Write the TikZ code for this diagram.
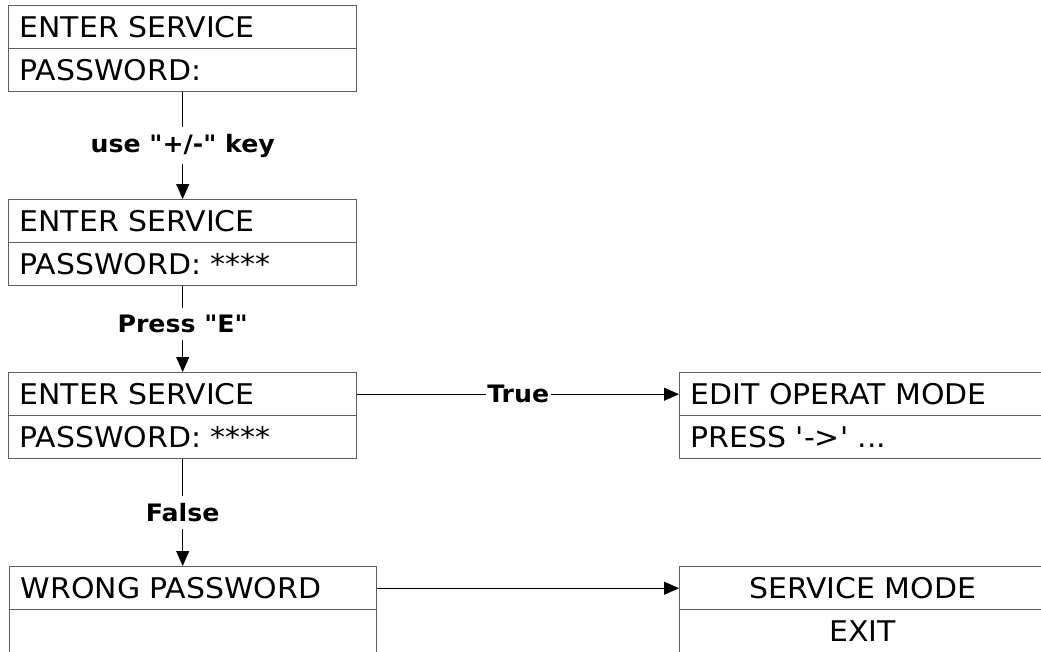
\documentclass[tikz,border=0pt]{standalone}
\usepackage{fontspec}
\setmainfont{DejaVu Sans}[Ligatures=TeXOff, FakeStretch=1.05]
\usetikzlibrary{arrows.meta}
\definecolor{boxline}{RGB}{95,95,95}
\tikzset{
  row/.style={draw=boxline, line width=1.4pt, rectangle, anchor=north west,
    minimum height=43pt, inner xsep=11pt, inner ysep=0pt,
    font=\fontsize{28.5}{34}\selectfont},
  rowl/.style={row, minimum width=#1, text width=#1-22pt, align=left},
  rowc/.style={row, minimum width=#1, text width=#1-22pt, align=center},
  link/.style={draw=black, line width=1pt, -{Triangle[length=15pt,width=13pt]}},
  tag/.style={fill=white, font=\fontsize{24}{28}\bfseries\selectfont,
    inner xsep=1.5pt, inner ysep=7pt}
}
\begin{document}
\begin{tikzpicture}[x=1pt, y=-1pt]
  \clip (0,0) rectangle (1041,651);
  \fill[white] (0,0) rectangle (1041,651);

  % password entry screens
  \node[rowl=348pt] (b1t) at (8,5)   {ENTER SERVICE};
  \node[rowl=348pt] (b1b) at (8,48)  {PASSWORD:};
  \node[rowl=348pt] (b2t) at (8,199) {ENTER SERVICE};
  \node[rowl=348pt] (b2b) at (8,242) {PASSWORD: ****};
  \node[rowl=348pt] (b3t) at (8,372) {ENTER SERVICE};
  \node[rowl=348pt] (b3b) at (8,415) {PASSWORD: ****};

  % result screens
  \node[rowl=367pt] (b4t) at (9,566) {WRONG PASSWORD};
  \node[rowl=367pt] (b4b) at (9,609) {};
  \node[rowl=366pt] (b6t) at (679,372) {EDIT OPERAT MODE};
  \node[rowl=366pt] (b6b) at (679,415) {PRESS '->' ...};
  \node[rowc=366pt] (b5t) at (679,566) {SERVICE MODE};
  \node[rowc=366pt] (b5b) at (679,609) {EXIT};

  % transitions
  \draw[link] (b1b.south) -- node[tag] {use "+/-" key} (b2t.north);
  \draw[link] (b2b.south) -- node[tag, pos=0.44] {Press "E"} (b3t.north);
  \draw[link] (b3b.south) -- node[tag] {False} (b3b.south |- b4t.north);
  \draw[link] (b3t.east) -- node[tag] {True} (b6t.west);
  \draw[link] (b4t.east) -- (b5t.west);
\end{tikzpicture}
\end{document}
